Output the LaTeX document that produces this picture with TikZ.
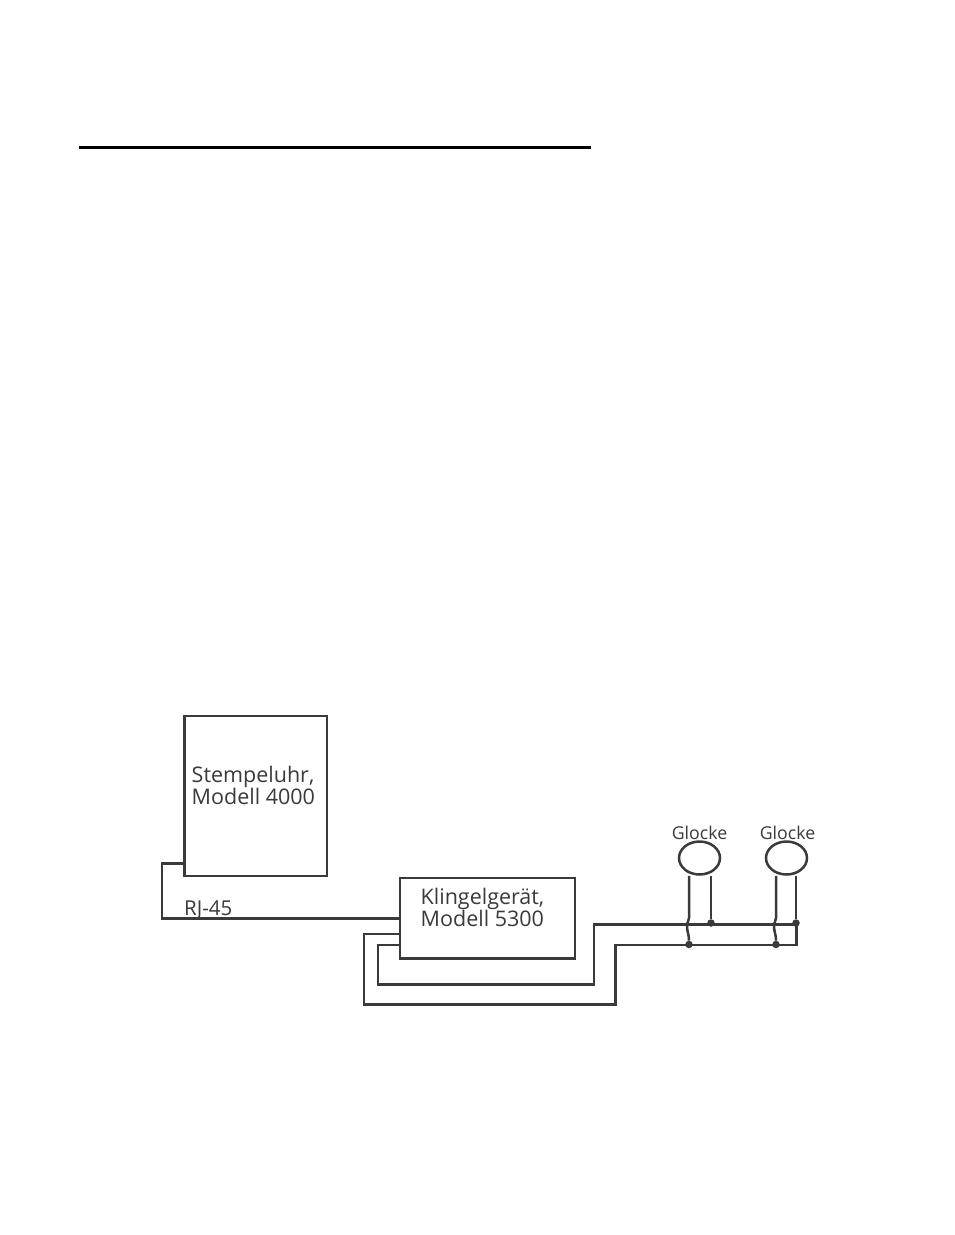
\documentclass[tikz,border=0pt]{standalone}
\usepackage{fontspec}
\setmainfont{Open Sans}
\usetikzlibrary{shapes.geometric}
\definecolor{wirecol}{HTML}{3A3A3A}
\tikzset{box/.style = {draw=wirecol, line width=2.5pt, inner sep=0pt, outer sep=0pt, anchor=north west},
         bell/.style = {draw=wirecol, line width=2.5pt, ellipse, inner sep=0pt},
         lbl/.style = {text=wirecol, align=left, anchor=west, inner sep=0pt},
         wire/.style = {draw=wirecol, line width=2.5pt, line join=miter},
         joint/.style = {circle, fill=wirecol, inner sep=0pt, minimum size=7.5pt}}

\begin{document}
\begin{tikzpicture}[x=1pt, y=-1pt]
      \useasboundingbox [fill=white] (0, 0) rectangle (954, 1235);
      \coordinate (ruleL) at (79, 147);
      \coordinate (ruleR) at (591, 147);
      \draw [line width=3pt, black] (ruleL) -- (ruleR);

      \node [box, minimum width=142.5pt, minimum height=160pt] (uhr) at (184.5, 716) {};
      \node [box, minimum width=175pt, minimum height=80.5pt] (klingel) at (400, 878) {};
      \node [lbl, font=\fontsize{21.5}{22}\selectfont] (uhrtext) at (191.5, 785) {Stempeluhr,\\Modell 4000};
      \node [lbl, font=\fontsize{21.5}{22}\selectfont] (klingeltext) at (420.5, 907) {Klingelgerät,\\Modell 5300};
      \node [lbl, font=\fontsize{20.5}{22}\selectfont] (rj) at (184, 910) {RJ-45};

      \node [bell, minimum width=41pt, minimum height=33pt] (bellA) at (699.5, 858) {};
      \node [bell, minimum width=41pt, minimum height=33pt] (bellB) at (786.5, 858) {};
      \node [lbl, anchor=center, font=\fontsize{17.7}{20}\selectfont] (glockeA) at (699.5, 832.5) {Glocke};
      \node [lbl, anchor=center, font=\fontsize{17.7}{20}\selectfont] (glockeB) at (787.5, 832.5) {Glocke};

      \node [joint] (jA) at (689, 944.5) {};
      \node [joint] (jB) at (711, 923) {};
      \node [joint] (jC) at (776, 944.5) {};
      \node [joint] (jD) at (796, 923) {};

      % RJ-45 cable
      \draw [wire] (uhr.west |- 0, 863.5) -- (162, 863.5) -- (162, 918.5) -- (klingel.west |- 0, 918.5);
      % two wires to the bells
      \draw [wire] (klingel.west |- 0, 934) -- (364, 934) -- (364, 1004.5) -- (615.5, 1004.5)
                   -- (615.5, 945) -- (796.5, 945) -- (796.5, 924.5) -- (594, 924.5)
                   -- (594, 984.5) -- (378, 984.5) -- (378, 945) -- (klingel.west |- 0, 945);

      % bell leads
      \draw [wire] (bellA.south -| jA) -- (689, 918) .. controls (689, 921) and (687, 922) .. (687, 926)
                   .. controls (687, 932) and (689, 934) .. (jA);
      \draw [wire] (bellA.south -| jB) -- (jB);
      \draw [wire] (bellB.south -| jC) -- (776, 918) .. controls (776, 921) and (774, 922) .. (774, 926)
                   .. controls (774, 932) and (776, 934) .. (jC);
      \draw [wire] (bellB.south -| jD) -- (jD);
    \end{tikzpicture}
\end{document}
